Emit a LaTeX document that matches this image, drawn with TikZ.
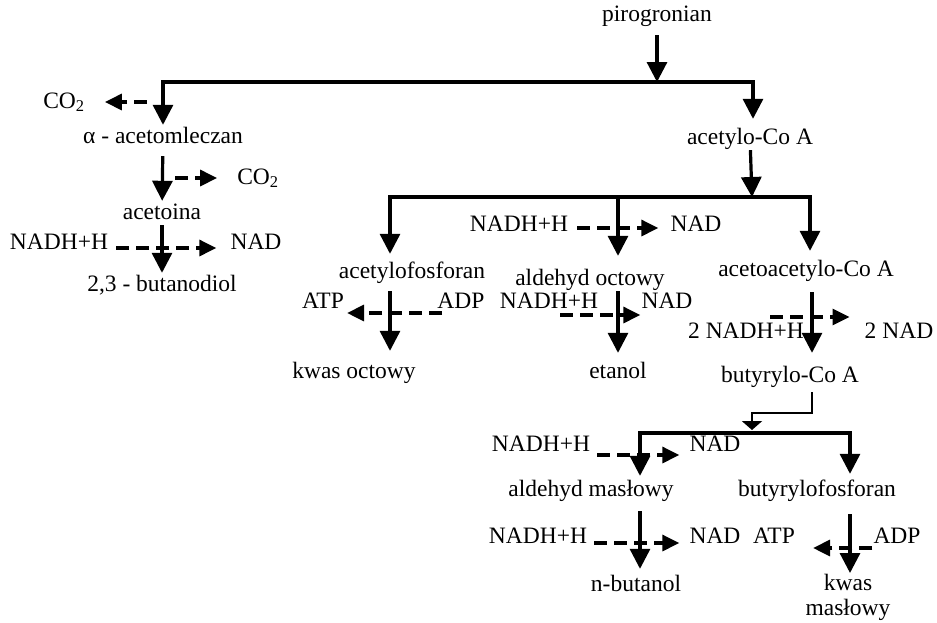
\documentclass[tikz,border=0pt]{standalone}
\usepackage{fontspec}
\setmainfont{Liberation Serif}
\usetikzlibrary{arrows.meta}
\begin{document}
\begin{tikzpicture}[line join=miter,x=1pt,y=-1pt,
	txt/.style={font=\fontsize{23.5}{26}\selectfont,inner sep=1pt,
		text height=17pt,text depth=5pt},
	linia/.style={line width=3.2pt},
	glowna/.style={linia,-{Triangle[width=20pt,length=20pt]}},
	cienka/.style={line width=2.3pt,-{Triangle[width=20pt,length=9pt]}},
	boczna/.style={linia,dash pattern=on 13pt off 7pt,
		-{Triangle[width=16pt,length=17pt]}}]
	\useasboundingbox (0,0) rectangle (937,622); %ramka
	% Nazwy zwiazkow
	\node[txt] (pir) at (657,15) {pirogronian};
	\node[txt] (co2a) at (64,102) {CO\textsubscript{2}};
	\node[txt] (acm) at (163,137) {α - acetomleczan};
	\node[txt] (co2b) at (258,178) {CO\textsubscript{2}};
	\node[txt] (acn) at (162,213) {acetoina};
	\node[txt] (nadh1) at (59,243) {NADH+H};
	\node[txt] (nad1) at (256,243) {NAD};
	\node[txt] (bdiol) at (162,285) {2,3 - butanodiol};
	\node[txt] (acoA) at (750,138) {acetylo-Co A};
	\node[txt] (nadh2) at (519,225) {NADH+H};
	\node[txt] (nad2) at (696,225) {NAD};
	\node[txt] (afos) at (412,272) {acetylofosforan};
	\node[txt] (aoct) at (590,279) {aldehyd octowy};
	\node[txt] (aacoA) at (806,270) {acetoacetylo-Co A};
	\node[txt] (atp1) at (323,302) {ATP};
	\node[txt] (adp1) at (461,302) {ADP};
	\node[txt] (nadh3) at (549,302) {NADH+H};
	\node[txt] (nad3) at (667,302) {NAD};
	\node[txt] (nadh2x) at (746,332) {2 NADH+H};
	\node[txt] (nad2x) at (899,332) {2 NAD};
	\node[txt] (kwo) at (354,372) {kwas octowy};
	\node[txt] (etn) at (618,372) {etanol};
	\node[txt] (bcoA) at (790,376) {butyrylo-Co A};
	\node[txt] (nadh4) at (541,445) {NADH+H};
	\node[txt] (nad4) at (715,445) {NAD};
	\node[txt] (amas) at (591,490) {aldehyd masłowy};
	\node[txt] (bfos) at (817,490) {butyrylofosforan};
	\node[txt] (nadh5) at (538,537) {NADH+H};
	\node[txt] (nad5) at (715,537) {NAD};
	\node[txt] (atp2) at (774,537) {ATP};
	\node[txt] (adp2) at (897,537) {ADP};
	\node[txt] (nbut) at (636,585) {n-butanol};
	\node[font=\fontsize{23.5}{25}\selectfont,inner sep=1pt,align=center,
		anchor=north] (kwm) at (848,573) {kwas\\masłowy};
	% Punkty rozgalezien
	\coordinate (r1) at (657,82);
	\coordinate (r1p) at (753,82);
	\coordinate (r2) at (752,197);
	\coordinate (r2l) at (390,197);
	\coordinate (r2s) at (618,197);
	\coordinate (r2p) at (810,197);
	\coordinate (z1) at (812,413);
	\coordinate (r3) at (752,433);
	\coordinate (r3l) at (640,433);
	\coordinate (r3p) at (850,433);
	% Strzalki glowne
	\draw[glowna,shorten <=8pt] (pir) -- (r1);
	\draw[glowna] (r1) -| (acm.north);
	\draw[glowna,shorten >=7pt] (r1) -| (r1p |- acoA.north);
	\draw[glowna,shorten <=7pt] (acm) -- (acn);
	\draw[glowna] (acn) -- (bdiol);
	\draw[glowna] (acoA) -- (r2);
	\draw[glowna,shorten >=6pt] (r2) -| (r2l |- afos.north);
	\draw[glowna,shorten >=7pt] (r2) -| (r2p |- aacoA.north);
	\draw[glowna,shorten >=11pt] (r2s) -- (r2s |- aoct.north);
	\draw[glowna,shorten <=7pt,shorten >=9pt] (afos.south -| r2l) -- (kwo.north -| r2l);
	\draw[glowna,shorten >=7pt] (aoct.south -| r2s) -- (etn.north -| r2s);
	\draw[glowna,shorten <=10pt,shorten >=11pt] (aacoA.south -| z1) -- (bcoA.north -| z1);
	\draw[cienka,shorten <=4pt,shorten >=3pt] (bcoA.south -| z1) -- (z1) -| (r3);
	\draw[glowna,shorten >=2pt] (r3) -| (r3l |- amas.north);
	\draw[glowna,shorten >=4pt] (r3) -| (r3p |- bfos.north);
	\draw[glowna,shorten <=9pt,shorten >=4pt] (amas.south -| r3l) -- (nbut.north -| r3l);
	\draw[glowna,shorten <=12pt] (bfos.south -| r3p) -- (kwm.north -| r3p);
	% Strzalki przerywane
	\coordinate (d1) at (147,102);
	\coordinate (d2) at (175,178);
	\coordinate (d3) at (442,313);
	\coordinate (d4) at (560,315);
	\coordinate (d5) at (770,317);
	\draw[boczna,shorten >=19pt] (d1) -- (d1 -| co2a.east);
	\draw[boczna,shorten >=19pt] (d2) -- (d2 -| co2b.west);
	\draw[boczna,shorten <=7pt,shorten >=13pt] ([yshift=-5pt]nadh1.east) -- ([yshift=-5pt]nad1.west);
	\draw[boczna,shorten <=8pt,shorten >=11pt] ([yshift=-3pt]nadh2.east) -- ([yshift=-3pt]nad2.west);
	\draw[boczna,shorten >=2pt] (d3) -- (d3 -| atp1.east);
	\draw[boczna] (d4) -- (d4 -| nad3.west);
	\draw[boczna,shorten >=14pt] (d5) -- (d5 -| nad2x.west);
	\draw[boczna,shorten <=6pt,shorten >=9pt] ([yshift=-10pt]nadh4.east) -- ([yshift=-10pt]nad4.west);
	\draw[boczna,shorten <=6pt,shorten >=9pt] ([yshift=-6pt]nadh5.east) -- ([yshift=-6pt]nad5.west);
	\draw[boczna,shorten >=17pt] ([yshift=-11pt]adp2.west) -- ([yshift=-11pt]atp2.east);
\end{tikzpicture}
\end{document}
